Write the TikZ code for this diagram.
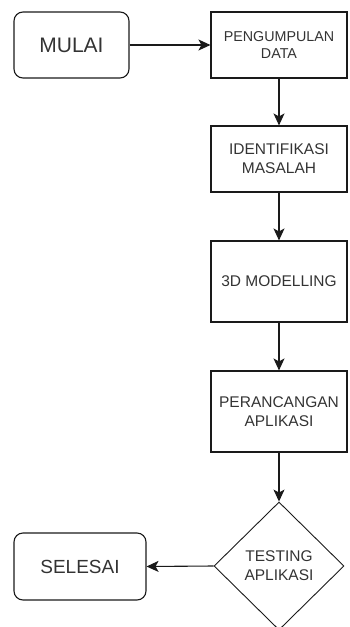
\documentclass[tikz,border=0pt]{standalone}
\usepackage{fontspec}
\setmainfont{Liberation Sans}
\usetikzlibrary{shapes.geometric,arrows.meta}
\definecolor{txt}{HTML}{333333}
\definecolor{ln}{HTML}{1A1A1A}
\begin{document}
\begin{tikzpicture}[x=1pt,y=-1pt,
  every node/.style={text=txt},
  procbox/.style={draw=ln,line width=1.1pt,rectangle,minimum width=136pt,inner sep=0pt,align=center,font=\fontsize{15.5}{19}\selectfont},
  termbox/.style={draw=ln,line width=1.1pt,rectangle,rounded corners=9pt,inner sep=0pt,align=center},
  decbox/.style={draw=ln,line width=0.9pt,diamond,minimum width=130pt,minimum height=128pt,inner sep=0pt,align=center,font=\fontsize{15.5}{19}\selectfont},
  flow/.style={draw=ln,line width=1.1pt,-{Stealth[length=12pt,width=11pt,inset=3pt]}}]
\useasboundingbox (0,0) rectangle (349,627);
\node[termbox,minimum width=115pt,minimum height=66pt,font=\fontsize{21}{25}\selectfont] (mulai) at (71.5,45) {MULAI};
\node[procbox,minimum height=66pt,font=\fontsize{14.3}{17.5}\selectfont] (b1) at (279,45) {PENGUMPULAN\\DATA};
\node[procbox,minimum height=66pt] (b2) at (279,159) {IDENTIFIKASI\\MASALAH};
\node[procbox,minimum height=81pt] (b3) at (279,281.5) {3D MODELLING};
\node[procbox,minimum height=81pt] (b4) at (279,411.5) {PERANCANGAN\\APLIKASI};
\node[decbox] (d) at (279,566) {TESTING\\APLIKASI};
\node[termbox,minimum width=132pt,minimum height=67pt,font=\fontsize{19}{23}\selectfont] (selesai) at (80,566.5) {SELESAI};
\draw[flow] (mulai.east) -- (b1.west);
\draw[flow] (b1.south) -- (b2.north);
\draw[flow] (b2.south) -- (b3.north);
\draw[flow] (b3.south) -- (b4.north);
\draw[flow] (b4.south) -- (d.north);
\draw[flow] (d.west) -- (selesai.east);
\end{tikzpicture}
\end{document}
